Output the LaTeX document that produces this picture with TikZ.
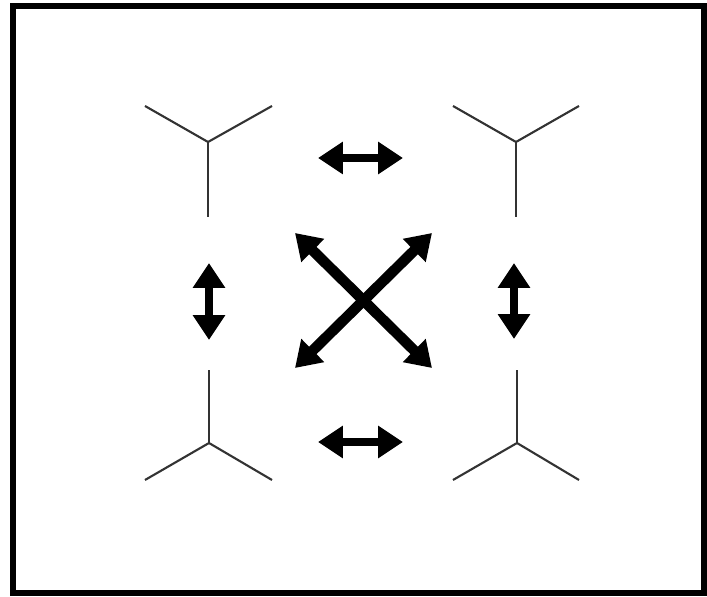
\documentclass[tikz,border=0pt]{standalone}
\usepackage{amsmath, amssymb}
\usetikzlibrary{arrows.meta}

\begin{document}
\begin{tikzpicture}[x=0.02cm, y=-0.02cm,
    arm/.style={line width=1.2pt, draw=black!80},
    swap/.style={line width=5pt, {Triangle[length=5mm,width=6.2mm]}-{Triangle[length=5mm,width=6.2mm]}}]
    \useasboundingbox (0,0) rectangle (707,597);
    \draw[line width=3.4pt] (13,6) rectangle (704,593);

    % top left
    \coordinate (a) at (208,142);
    \coordinate (a1) at (145,106);
    \coordinate (a2) at (272,106);
    \coordinate (a3) at (208,217);
    % top right
    \coordinate (b) at (516,142);
    \coordinate (b1) at (453,106);
    \coordinate (b2) at (579,106);
    \coordinate (b3) at (516,217);
    % bottom left
    \coordinate (c) at (209,443);
    \coordinate (c1) at (145,480);
    \coordinate (c2) at (272,480);
    \coordinate (c3) at (209,370);
    % bottom right
    \coordinate (d) at (517,443);
    \coordinate (d1) at (453,480);
    \coordinate (d2) at (579,480);
    \coordinate (d3) at (517,370);

    \draw[arm] (a1)--(a)--(a2);
    \draw[arm] (a)--(a3);
    \draw[arm] (b1)--(b)--(b2);
    \draw[arm] (b)--(b3);
    \draw[arm] (c1)--(c)--(c2);
    \draw[arm] (c)--(c3);
    \draw[arm] (d1)--(d)--(d2);
    \draw[arm] (d)--(d3);

    % arrows
    \coordinate (ht1) at (318,158);
    \coordinate (ht2) at (403,158);
    \coordinate (hb1) at (318,442);
    \coordinate (hb2) at (403,442);
    \coordinate (vl1) at (209,263);
    \coordinate (vl2) at (209,340);
    \coordinate (vr1) at (514,263);
    \coordinate (vr2) at (514,339);
    \coordinate (x1) at (295,233);
    \coordinate (x2) at (432,368);
    \coordinate (x3) at (432,233);
    \coordinate (x4) at (295,368);

    \draw[swap] (ht1)--(ht2);
    \draw[swap] (hb1)--(hb2);
    \draw[swap] (vl1)--(vl2);
    \draw[swap] (vr1)--(vr2);
    \draw[swap, line width=6pt] (x1)--(x2);
    \draw[swap, line width=6pt] (x3)--(x4);
\end{tikzpicture}
\end{document}
